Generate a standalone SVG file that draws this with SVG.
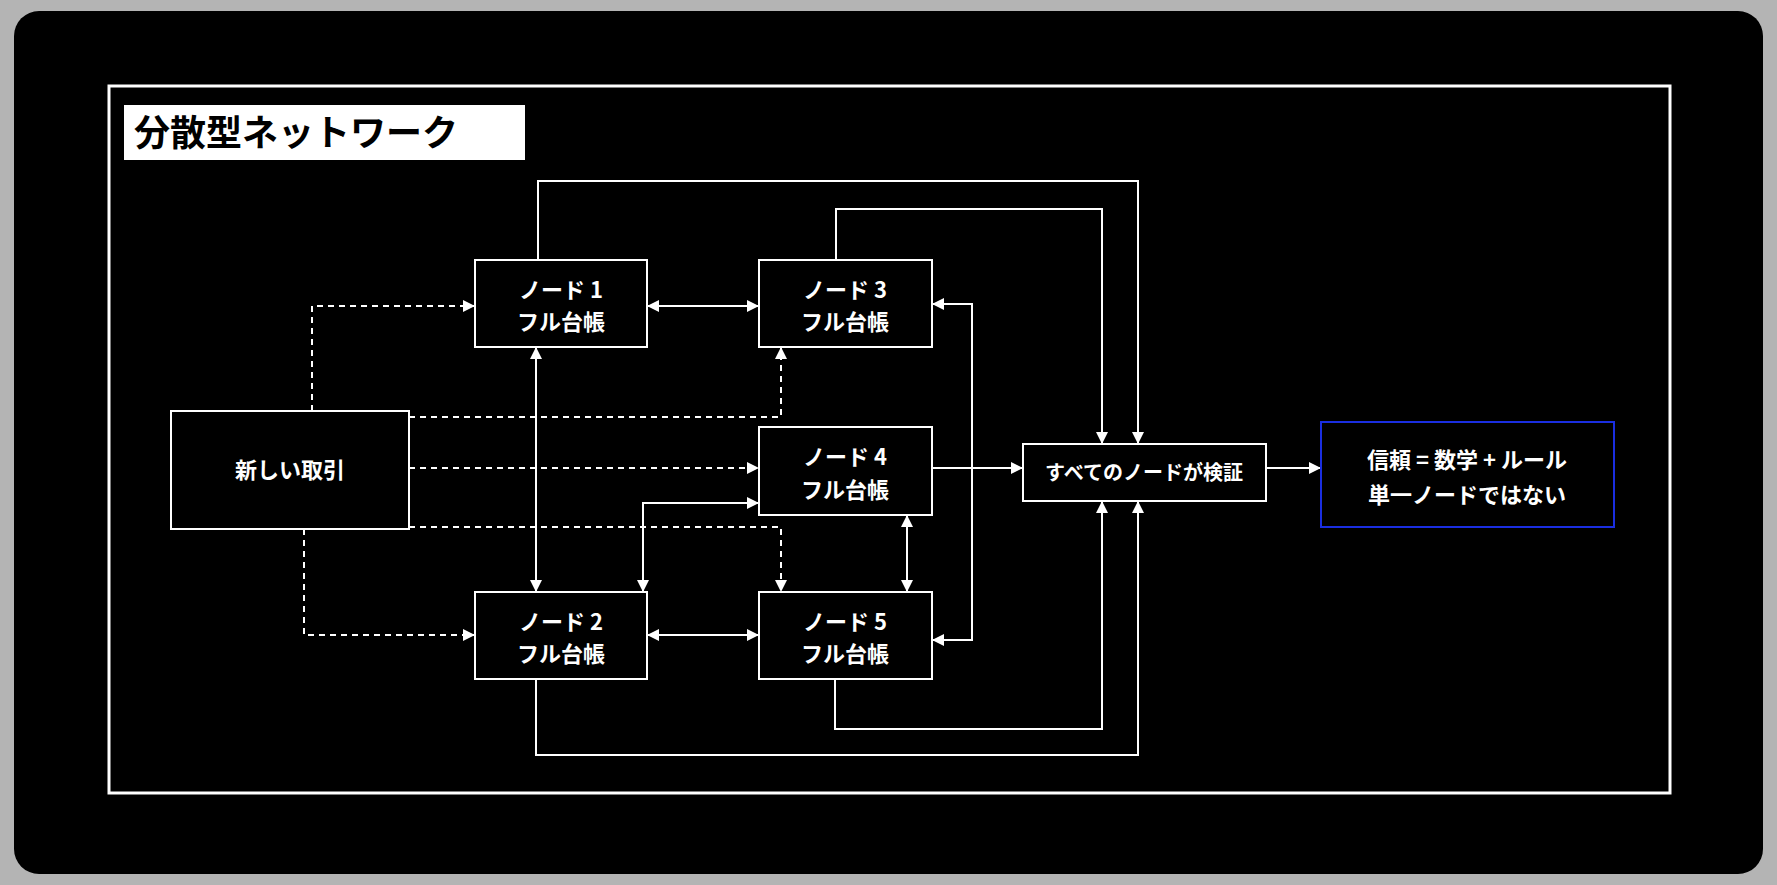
<svg xmlns="http://www.w3.org/2000/svg" width="1777" height="885" viewBox="0 0 1777 885">
<style>
.n{fill:#000;stroke:#fff;stroke-width:2}
.t{fill:#fff;font-family:"Noto Sans CJK JP","Noto Sans",sans-serif;font-weight:bold;font-size:22px;text-anchor:middle}
.c{fill:none;stroke:#fff;stroke-width:2}
.d{fill:none;stroke:#fff;stroke-width:2;stroke-dasharray:6 5}
</style>
<defs>
<marker id="a" viewBox="0 0 10 10" refX="10" refY="5" markerWidth="6" markerHeight="6" orient="auto-start-reverse"><path d="M0,0L10,5L0,10z" fill="#fff"/></marker>
</defs>
<rect width="1777" height="885" fill="#b4b4b4"/>
<rect x="14" y="11" width="1749" height="863" rx="25" fill="#000"/>
<rect x="109" y="86" width="1561" height="707" fill="none" stroke="#fff" stroke-width="3"/>
<g id="title"><rect x="124" y="105" width="401" height="55" fill="#fff"/><text x="134" y="146" font-family="Noto Sans CJK JP,sans-serif" font-weight="bold" font-size="36" fill="#000">分散型ネットワーク</text></g>
<g id="connectors">
<path class="c" d="M538,260V181H1138V444" marker-end="url(#a)"/>
<path class="c" d="M836,260V209H1102V444" marker-end="url(#a)"/>
<path class="c" d="M536,679V755H1138V501" marker-end="url(#a)"/>
<path class="c" d="M835,679V729H1102V501" marker-end="url(#a)"/>
<path class="c" d="M647,306H759" marker-start="url(#a)" marker-end="url(#a)"/>
<path class="c" d="M647,635H759" marker-start="url(#a)" marker-end="url(#a)"/>
<path class="c" d="M536,347V592" marker-start="url(#a)" marker-end="url(#a)"/>
<path class="c" d="M759,503H643V592" marker-start="url(#a)" marker-end="url(#a)"/>
<path class="c" d="M907,515V592" marker-start="url(#a)" marker-end="url(#a)"/>
<path class="c" d="M932,304H972V640H932" marker-start="url(#a)" marker-end="url(#a)"/>
<path class="c" d="M932,468H1023" marker-end="url(#a)"/>
<path class="c" d="M1266,468H1321" marker-end="url(#a)"/>
<path class="d" d="M312,411V306H475" marker-end="url(#a)"/>
<path class="d" d="M409,417H781V347" marker-end="url(#a)"/>
<path class="d" d="M409,468H759" marker-end="url(#a)"/>
<path class="d" d="M409,527H781V592" marker-end="url(#a)"/>
<path class="d" d="M304,529V635H475" marker-end="url(#a)"/>
</g>
<g id="tx"><rect class="n" x="171" y="411" width="238" height="118"/><text class="t" x="290" y="478">新しい取引</text></g>
<g id="node1"><rect class="n" x="475" y="260" width="172" height="87"/><text class="t" x="561" y="298">ノード 1</text><text class="t" x="561" y="330">フル台帳</text></g>
<g id="node3"><rect class="n" x="759" y="260" width="173" height="87"/><text class="t" x="845" y="298">ノード 3</text><text class="t" x="845" y="330">フル台帳</text></g>
<g id="node4"><rect class="n" x="759" y="427" width="173" height="88"/><text class="t" x="845" y="465">ノード 4</text><text class="t" x="845" y="498">フル台帳</text></g>
<g id="node2"><rect class="n" x="475" y="592" width="172" height="87"/><text class="t" x="561" y="630">ノード 2</text><text class="t" x="561" y="662">フル台帳</text></g>
<g id="node5"><rect class="n" x="759" y="592" width="173" height="87"/><text class="t" x="845" y="630">ノード 5</text><text class="t" x="845" y="662">フル台帳</text></g>
<g id="verify"><rect class="n" x="1023" y="444" width="243" height="57"/><text class="t" x="1144" y="480" style="font-size:20px">すべてのノードが検証</text></g>
<g id="trust"><rect x="1321" y="422" width="293" height="105" fill="#000" stroke="#1a2ee0" stroke-width="2"/><text class="t" x="1467" y="468">信頼 = 数学 + ルール</text><text class="t" x="1467" y="503">単一ノードではない</text></g>
</svg>
